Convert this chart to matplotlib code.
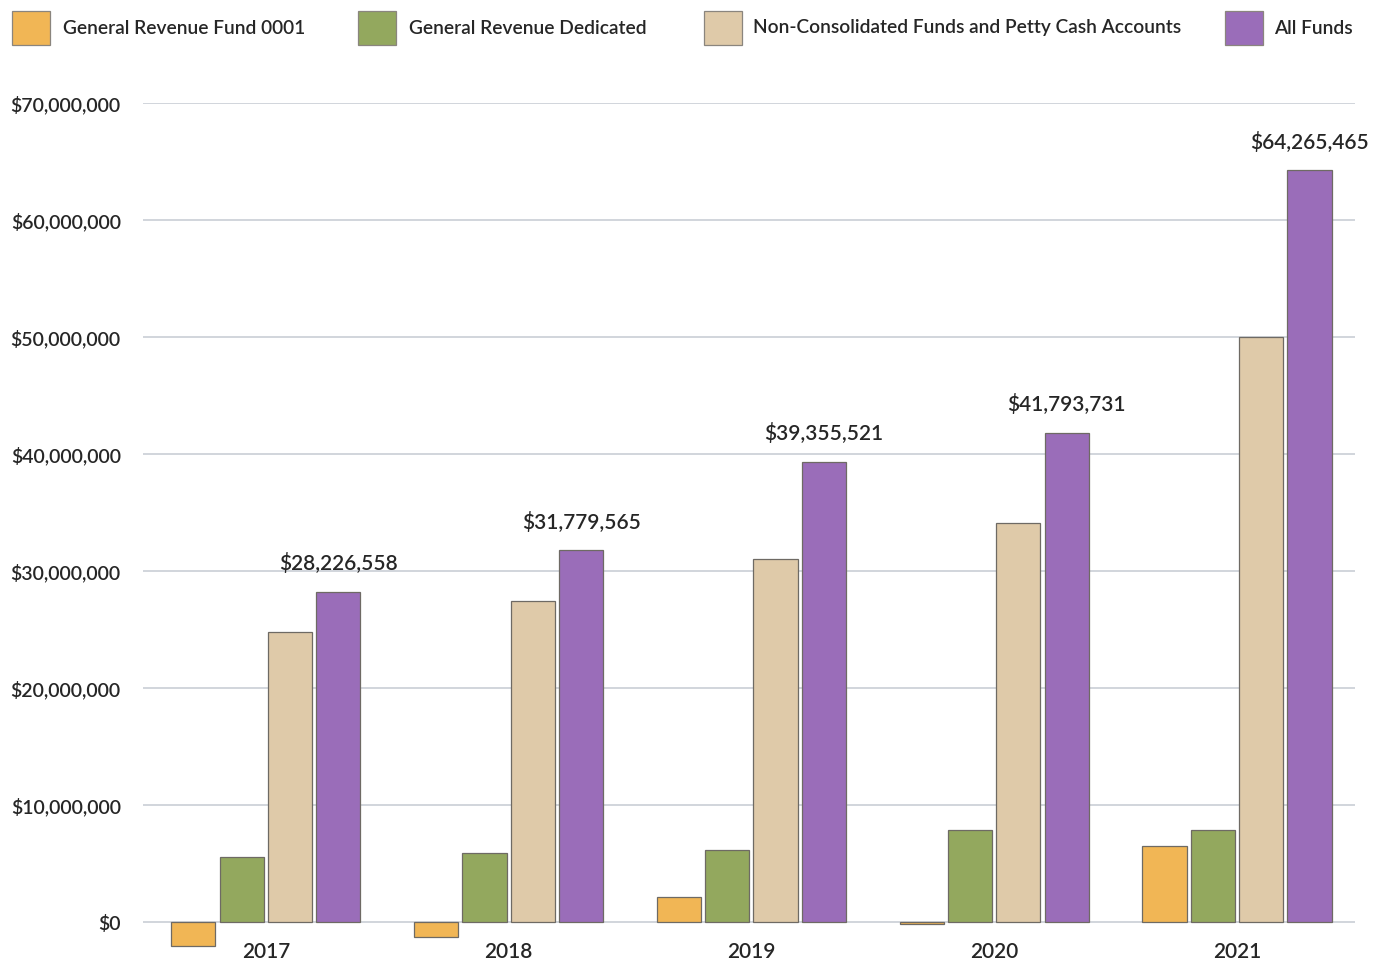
import matplotlib
matplotlib.use("Agg")
import matplotlib.pyplot as plt
from matplotlib.patches import Rectangle
import numpy as np

years = ["2017", "2018", "2019", "2020", "2021"]
series_names = ["General Revenue Fund 0001", "General Revenue Dedicated",
                "Non-Consolidated Funds and Petty Cash Accounts", "All Funds"]
grf = [-2.05e6, -1.3e6, 2.1e6, -0.15e6, 6.5e6]
grd = [5.55e6, 5.86e6, 6.15e6, 7.85e6, 7.85e6]
noncons = [24.8e6, 27.4e6, 31.0e6, 34.1e6, 50.0e6]
all_funds = [28226558, 31779565, 39355521, 41793731, 64265465]
all_labels = ["$28,226,558", "$31,779,565", "$39,355,521", "$41,793,731", "$64,265,465"]
yticks = [0, 10e6, 20e6, 30e6, 40e6, 50e6, 60e6, 70e6]
ytick_labels = ["$0", "$10,000,000", "$20,000,000", "$30,000,000", "$40,000,000",
                "$50,000,000", "$60,000,000", "$70,000,000"]

colors = ["#f1b655", "#93a85e", "#dfcaa9", "#9a6db9"]
text_color = "#262626"
fw = 600

plt.rcParams['font.family'] = ['Lato', 'DejaVu Sans']

W, H = 1373, 963
fig = plt.figure(figsize=(W / 100, H / 100), dpi=100)
ax = fig.add_axes([143/W, 0.0, (1355-143)/W, 1 - 103/H])

x = np.arange(len(years))
pitch = 0.199
width = 0.182
all_series = [grf, grd, noncons, all_funds]
for i, (vals, c) in enumerate(zip(all_series, colors)):
    ax.bar(x + (i - 1.5) * pitch, vals, width, color=c, edgecolor="#6e6a64",
           linewidth=0.9, zorder=3)

for xi, v, lab in zip(x, all_funds, all_labels):
    ax.text(xi + 1.5 * pitch, v + 1.5e6, lab, ha="center", va="bottom",
            fontsize=15, color=text_color, fontweight=fw)

ax.set_xlim(-0.506, 4.486)
ax.set_ylim(-3.5e6, 70e6)
ax.set_yticks(yticks)
ax.set_yticklabels(ytick_labels, fontsize=14, color=text_color, fontweight=fw)
ax.tick_params(axis="y", length=0, pad=16)
ax.set_xticks([])
ax.grid(axis="y", color="#c9ced6", linewidth=1.2, zorder=0)
for s in ax.spines.values():
    s.set_visible(False)

for xi, y in zip(x, years):
    ax.text(xi, -2.6e6, y, ha="center", va="center", fontsize=15,
            color=text_color, fontweight=fw)

# legend drawn entry by entry in the figure's pixel space
box_left = [12, 358, 704, 1225]
text_left = [63, 409, 753, 1274]
cy = 28
for bx, tx, c, name in zip(box_left, text_left, colors, series_names):
    fig.add_artist(Rectangle((bx / W, 1 - (cy + 17) / H), 38 / W, 34 / H,
                             transform=fig.transFigure, facecolor=c,
                             edgecolor="#8a857e", linewidth=0.9))
    fig.text(tx / W, 1 - cy / H, name, ha="left", va="center", fontsize=13.8,
             color=text_color, fontweight=fw)

fig.savefig("out.png", dpi=100)
